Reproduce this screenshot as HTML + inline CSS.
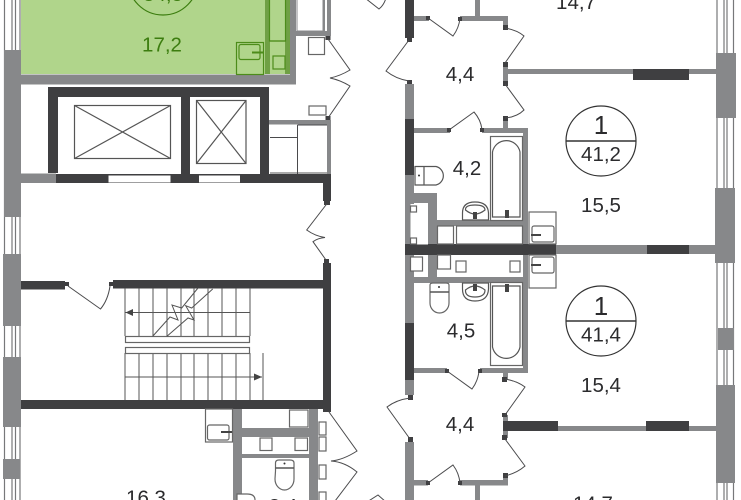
<!DOCTYPE html>
<html><head><meta charset="utf-8"><style>
html,body{margin:0;padding:0;background:#fff}svg{display:block;filter:blur(.3px)}
text{font-family:"Liberation Sans",sans-serif;font-size:20.5px;fill:#2b2b2d;text-anchor:middle}
.g{fill:#87888a}.d{fill:#3f3f41}.l{fill:none;stroke:#4a4a4c;stroke-width:1}.t{fill:none;stroke:#555;stroke-width:1.2}.w{fill:#fff;stroke:#666;stroke-width:1.2}
.gr{fill:none;stroke:#4c8c1a;stroke-width:1.2}
</style></head><body>
<svg width="741" height="500" viewBox="0 0 741 500" xmlns="http://www.w3.org/2000/svg">
<rect width="741" height="500" fill="#fff"/>
<!-- left windows -->
<g stroke="#77787a" stroke-width="1.2"><path d="M4.5 0V500M12 0V500M15.5 0V500M20 0V500"/></g>
<g class="g"><rect x="4" y="50" width="17" height="167"/><rect x="3" y="254" width="18" height="72"/><rect x="3" y="357" width="18" height="70"/><rect x="3" y="459" width="17" height="20"/></g>
<!-- right windows -->
<g stroke="#77787a" stroke-width="1.2"><path d="M717 0V500M724 0V500M727 0V500M733.5 0V500"/></g>
<g class="g"><rect x="716" y="53" width="20" height="65"/><rect x="715" y="188" width="20" height="75"/><rect x="718" y="328" width="16" height="22"/><rect x="716" y="385" width="19" height="98"/></g>
<!-- green apartment -->
<rect x="21" y="0" width="269" height="74" fill="#b0d58b"/>
<rect x="265" y="0" width="5" height="74" fill="#6fa044"/><rect x="285" y="0" width="6" height="74" fill="#6fa044"/>
<rect x="21" y="74.5" width="275" height="10" class="g"/><rect x="290" y="0" width="6" height="84" class="g"/>
<rect x="269.5" y="-2" width="16" height="43" class="gr"/><path d="M270 41H286" class="gr"/><rect x="236.5" y="42.5" width="27" height="32" class="gr"/><rect x="239" y="44.5" width="21" height="15" rx="2" class="gr"/><path d="M252 52.5H263" stroke="#4c8c1a" stroke-width="2"/><rect x="273" y="56" width="12" height="13" class="gr"/>
<circle cx="163" cy="-20" r="35" fill="none" stroke="#3c7d0f" stroke-width="1.2"/>
<text x="163" y="1" style="fill:#3c7d0f">34,5</text>
<text x="162" y="51.5" style="fill:#3c7d0f">17,2</text>
<!-- upper corridor box -->
<rect x="297" y="-2" width="26" height="33" fill="#fff" stroke="#8a8a8c"/><rect x="296" y="31" width="35" height="5" class="g"/><rect x="323" y="0" width="8" height="36" class="g"/><rect x="325" y="0" width="2" height="31" fill="#fff"/>
<rect x="308.5" y="37.5" width="16" height="17" class="w"/><rect x="309" y="106" width="17" height="9" class="w"/>
<rect x="325.5" y="36" width="5" height="4" class="d"/><rect x="325.5" y="116" width="5" height="4" class="d"/>
<path class="l" d="M328 39L350 70Q340 76 330 78Q340 80 350 86L328 118"/>
<!-- elevators -->
<g class="d"><rect x="48" y="87" width="221" height="10"/><rect x="48" y="87" width="10" height="86"/><rect x="181" y="97" width="9" height="78"/><rect x="260" y="97" width="9" height="78"/><rect x="56" y="174" width="275" height="9"/><rect x="323" y="174" width="8" height="27"/></g>
<rect x="21" y="173.5" width="35" height="9.5" class="g"/>
<rect x="108.5" y="175.5" width="62" height="7" fill="#fff"/><rect x="199" y="175.5" width="41" height="7" fill="#fff"/>
<g class="t"><rect x="74.5" y="105.5" width="96" height="53"/><path d="M74.5 105.5L170.5 158.5M170.5 105.5L74.5 158.5"/><rect x="196.5" y="100.5" width="49.5" height="63"/><path d="M196.5 100.5L246 163.5M246 100.5L196.5 163.5"/></g>
<!-- small room -->
<rect x="269" y="120" width="62" height="4.5" class="g"/><rect x="327" y="120" width="4" height="54" class="g"/><rect x="270" y="172" width="57" height="2" fill="#aaa"/>
<path class="l" d="M297.5 125V174M270 137.5H297.5M297.5 125H327"/>
<rect x="325.5" y="116" width="5" height="4" class="d"/><rect x="324" y="201" width="6" height="4" class="d"/>
<path class="l" d="M326.7 204L306.7 230Q315 236 325 237.500Q318 238 313 241.700L326.7 261"/>
<!-- stair hall -->
<g class="d"><rect x="323" y="263" width="8" height="149"/><rect x="324" y="259" width="5" height="4"/><rect x="113" y="280" width="210" height="8.5"/><rect x="21" y="281" width="44" height="8.5"/><rect x="65" y="282" width="4" height="4"/><rect x="109" y="282" width="4" height="4"/><rect x="21" y="400" width="310" height="9"/></g>
<path class="l" d="M68 286L100.500 309Q108 300 110 286"/>
<g stroke="#555" stroke-width="1"><path d="M125 288V336M139 288V336M153 288V336M167 288V336M181 288V336M194 288V336M208 288V336M222 288V336M236 288V336M250 288V336M125 353V400M139 353V400M153 353V400M167 353V400M181 353V400M194 353V400M208 353V400M222 353V400M236 353V400M250 353V400M263 353V400M125 312.500H250M125 377H262"/></g>
<rect x="125.500" y="336.500" width="124" height="6" class="w"/><rect x="125.500" y="347.500" width="124" height="6" class="w"/>
<path d="M125.500 312.500L133 309V316Z" fill="#444"/><path d="M262 377L254 373.500V380.500Z" fill="#444"/>
<path d="M152.500 336.500L170 317L178 320L172 305L181.700 308L198 288M166.700 336.500L188 318L194 320L185.700 305.700L191.700 308L212.700 289" fill="none" stroke="#555" stroke-width="1"/>
<!-- lower left wc -->
<g class="g"><rect x="233" y="409" width="9" height="91"/><rect x="309" y="409" width="9" height="91"/><rect x="242" y="428" width="67" height="9"/><rect x="242" y="454" width="67" height="4"/></g>
<rect x="289.500" y="410" width="18.500" height="17" class="w"/><rect x="260" y="438" width="12" height="12.500" class="w"/><rect x="295" y="438" width="12.500" height="12.500" class="w"/>
<rect x="205.500" y="409" width="27" height="33" class="w"/><rect x="207.500" y="425" width="21.500" height="15" rx="2" class="w"/><path d="M221 432H232" stroke="#444" stroke-width="2"/>
<g class="w"><rect x="319" y="422" width="7" height="13"/><rect x="319" y="437" width="7" height="14"/><rect x="319" y="465" width="7" height="14"/><rect x="319" y="492" width="7" height="12"/></g>
<path class="w" d="M275.500 471V463Q275.500 460 279 460H290Q294 460 294 463V471V479A9.500 11 0 0 1 275 479Z"/><path d="M275.500 468H294" stroke="#555" stroke-width="1.500"/><circle cx="284.500" cy="463.500" r="1" fill="#333"/>
<path class="w" d="M237 500V494H247Q255 494 255 500"/>
<text x="146" y="504.500">16,3</text><text x="283" y="513">8,4</text>
<path class="l" d="M329 412L357 451Q343 460 331 461Q345 462 357 472L332 505"/>
<path class="l" d="M365 -2L379 9Q384 5 386 -2"/><path class="l" d="M367 502L378 495L386 502"/>
<!-- corridor right upper flat -->
<g class="d"><rect x="405" y="0" width="9" height="38"/><rect x="407" y="38" width="5" height="4"/><rect x="407" y="80" width="5" height="4"/><rect x="405" y="119" width="9" height="56"/></g>
<g class="g"><rect x="405" y="84" width="9" height="35"/><rect x="405" y="175" width="9" height="70"/><rect x="414" y="16" width="15" height="5"/><rect x="460" y="16" width="47" height="5"/><rect x="475" y="0" width="5" height="16"/><rect x="503" y="16" width="5" height="12"/><rect x="503" y="62" width="5" height="22"/><rect x="507" y="69" width="209" height="5"/><rect x="503" y="118" width="5" height="11"/><rect x="414" y="128" width="36" height="5"/><rect x="482" y="128" width="46" height="5"/><rect x="523" y="128" width="5" height="117"/><rect x="414" y="193" width="23" height="10"/><rect x="428" y="193" width="9" height="52"/><rect x="437" y="220" width="86" height="6"/><rect x="556" y="245" width="160" height="9"/></g>
<rect x="633" y="69" width="56" height="11" class="d"/>
<g class="d"><rect x="426" y="16" width="4" height="4"/><rect x="503" y="25" width="5" height="5"/><rect x="503" y="62" width="5" height="5"/><rect x="503" y="81" width="5" height="5"/><rect x="503" y="116" width="5" height="5"/><rect x="447" y="128" width="4" height="4"/><rect x="480" y="128" width="4" height="4"/><rect x="458" y="17" width="4" height="4"/><rect x="405" y="244" width="151" height="11"/><rect x="647" y="245" width="42" height="9"/></g>
<path class="l" d="M428 18L453 36Q459 28 460 18M505 28Q517 30 524 36L505 63M505 84L524 110Q517 117 505 118M449 130L474 112Q481 120 482 130M409 40L386 71Q396 79 409 81"/>
<!-- upper bath -->
<rect x="490.500" y="136.500" width="32" height="84" class="w"/><path class="t" d="M492.500 217V152A14 14 0 0 1 520 152V217Z"/>
<path class="t" d="M462.500 220V213Q462.500 202 475 202Q488 202 488.500 213V220Z"/><path class="t" d="M465.500 210Q475 218 485 210Q485 205 475 205Q465 205 465.500 210Z"/>
<rect x="505" y="210" width="4" height="8" fill="#444"/><rect x="473" y="212" width="4" height="7" fill="#444"/>
<path class="t" d="M415 166.500H424V185H415ZM424 166.500H436A9.500 9.500 0 0 1 436 185H424Z"/><circle cx="419" cy="175.500" r="1" fill="#333"/>
<g class="w"><rect x="410.500" y="204" width="17.500" height="40.500" style="stroke:none"/><rect x="410.500" y="206" width="6" height="6"/><rect x="410.500" y="238" width="6" height="6"/><rect x="437.500" y="226" width="16" height="18"/><rect x="456.500" y="226" width="66" height="18"/></g>
<rect x="529" y="212" width="27" height="32" class="w"/><rect x="532" y="226" width="22" height="16" rx="2" class="w"/><path d="M531 235H541" stroke="#444" stroke-width="2"/>
<text x="460" y="81">4,4</text><text x="467" y="175">4,2</text><text x="601" y="212">15,5</text><text x="576" y="9">14,7</text>
<circle cx="601" cy="141" r="35" fill="#fff" stroke="#333" stroke-width="1.200"/><path d="M566 141H636" stroke="#333" stroke-width="1.500"/>
<text x="601" y="134" style="font-size:26px">1</text><text x="601" y="161">41,2</text>
<!-- lower bath -->
<g class="g"><rect x="405" y="255" width="9" height="68"/><rect x="405" y="380" width="9" height="15"/><rect x="405" y="442" width="9" height="58"/><rect x="428" y="255" width="9" height="22"/><rect x="414" y="277" width="114" height="6"/><rect x="523" y="255" width="5" height="118"/><rect x="414" y="368" width="33" height="5"/><rect x="480" y="368" width="47" height="5"/><rect x="503" y="373" width="5" height="6"/><rect x="503" y="415" width="5" height="23"/><rect x="414" y="480" width="14" height="5.500"/><rect x="460" y="480" width="48" height="5.500"/><rect x="475" y="485" width="5" height="15"/><rect x="503" y="476" width="5" height="5"/><rect x="558" y="426" width="88" height="5"/><rect x="689" y="426" width="27" height="5"/></g>
<g class="d"><rect x="405" y="323" width="9" height="57"/><rect x="408" y="395" width="5" height="5"/><rect x="408" y="437" width="5" height="5"/><rect x="503" y="421" width="55" height="10"/><rect x="646" y="421" width="43" height="10"/><rect x="502" y="377" width="5" height="5"/><rect x="502" y="413" width="5" height="4"/><rect x="502" y="435" width="5" height="5"/><rect x="503" y="473" width="5" height="5"/><rect x="426" y="481" width="4" height="4"/><rect x="458" y="481" width="4" height="4"/><rect x="445" y="369" width="4" height="4"/><rect x="478" y="369" width="4" height="4"/></g>
<path class="l" d="M410 398Q396 400 387 407L410 439M505 379Q517 381 525 387L505 415M505 439L525 466Q517 473 505 476M428 483L453 465Q459 473 460 483M447 371L472 389Q478 381 479 371"/>
<g class="w"><rect x="410.500" y="257" width="12" height="14"/><rect x="437.500" y="255" width="13" height="14"/><rect x="456" y="261" width="10" height="11"/><rect x="510" y="261" width="10" height="11"/></g>
<rect x="490.500" y="282.500" width="32" height="83" class="w"/><path class="t" d="M492.500 286V347A14 14 0 0 0 520 347V286Z"/>
<path class="t" d="M462.500 283V289Q462.500 301 475 301Q488 301 488.500 289V283Z"/><path class="t" d="M465.500 290Q475 282 485 290Q485 297 475 297Q465 297 465.500 290Z"/>
<rect x="505" y="284" width="4" height="8" fill="#444"/><rect x="473" y="284" width="4" height="7" fill="#444"/>
<path class="w" d="M430 294V285Q430 283 433 283H446Q449 283 449 285V294V303A9.500 10 0 0 1 430 303Z"/><path d="M430 292H449" stroke="#555" stroke-width="1.500"/><circle cx="439" cy="287" r="1" fill="#333"/>
<rect x="529" y="255" width="27" height="33" class="w"/><rect x="532" y="257" width="22" height="16" rx="2" class="w"/><path d="M531 265H541" stroke="#444" stroke-width="2"/>
<text x="461" y="337.500">4,5</text><text x="601" y="392">15,4</text><text x="460" y="431">4,4</text><text x="593" y="510.500">14,7</text>
<circle cx="601" cy="321" r="35" fill="#fff" stroke="#333" stroke-width="1.200"/><path d="M566 321H636" stroke="#333" stroke-width="1.500"/>
<text x="601" y="315" style="font-size:26px">1</text><text x="601" y="341.500">41,4</text>
</svg>
</body></html>
